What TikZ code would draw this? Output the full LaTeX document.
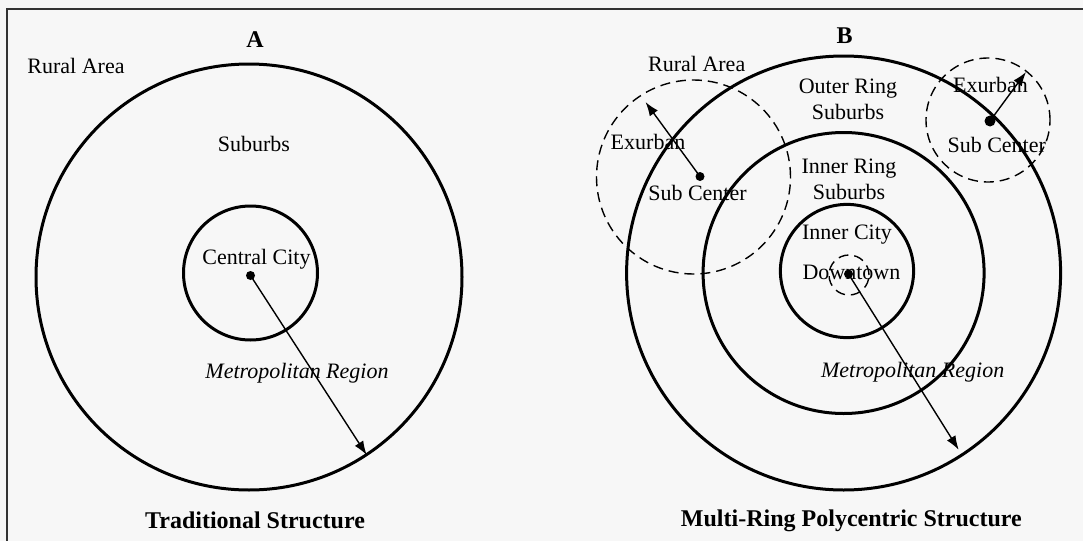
\documentclass[tikz,border=0pt]{standalone}
\usepackage{fontspec}
\setmainfont{Liberation Serif}
\usetikzlibrary{arrows.meta}

\tikzset{
  ring/.style={draw, circle, line width=1.5pt, inner sep=0pt},
  subring/.style={draw, circle, line width=0.7pt, dash pattern=on 5pt off 3pt, inner sep=0pt},
  dot/.style={circle, fill, inner sep=0pt, minimum size=4.5pt},
  ptr/.style={line width=0.7pt, -{Latex[length=7pt,width=5pt]}},
  lbl/.style={font=\fontsize{11}{13}\selectfont, inner sep=0pt, align=center},
  ttl/.style={font=\fontsize{12}{14}\selectfont\bfseries, inner sep=0pt},
  mreg/.style={font=\fontsize{11}{13}\selectfont\itshape, inner sep=0pt}
}

\begin{document}
\begin{tikzpicture}[x=0.5pt,y=-0.5pt]
\fill[white!97!black] (0,0) rectangle (1083,541);
\useasboundingbox (0,0) rectangle (1083,541);
\draw[line width=1pt, black!80] (7,541) -- (7,9) -- (1083,9);

% A
\node[ring, minimum size=213pt] (outerA) at (249,277) {};
\node[ring, minimum size=67pt] (cityA) at (250.5,273) {};
\node[dot] (ctrA) at (250.5,275.5) {};
\coordinate (endA) at (366.7,455);
\draw[ptr] (ctrA.center) -- (endA);

\node[ttl] (headA) at (255,40) {A};
\node[lbl] (ruralA) at (76,66) {Rural Area};
\node[lbl] (subA) at (254,144) {Suburbs};
\node[lbl] (centralA) at (256.5,259) {Central City};
\node[mreg] (metroA) at (297,373.6) {Metropolitan Region};
\node[ttl] (footA) at (255,520) {Traditional Structure};

% B
\node[ring, minimum size=217pt] (outerB) at (843.6,273) {};
\node[ring, minimum size=140.5pt] (midB) at (843.6,273) {};
\node[ring, minimum size=66.6pt] (cityB) at (847,271) {};
\node[subring, minimum size=20pt] (downB) at (849,275) {};
\node[subring, minimum size=97pt] (subL) at (693.5,177) {};
\node[subring, minimum size=62pt] (subR) at (988,120) {};

\node[dot] (ctrB) at (848.5,274) {};
\node[dot] (ctrL) at (700,176.5) {};
\node[dot, minimum size=5.5pt] (ctrR) at (990,121) {};
\coordinate (endB) at (958.7,449.8);
\coordinate (endL) at (645.5,102);
\coordinate (endR) at (1026,72);
\draw[ptr] (ctrB.center) -- (endB);
\draw[ptr] (ctrL.center) -- (endL);
\draw[ptr] (ctrR.center) -- (endR);

\node[ttl] (headB) at (844.5,36) {B};
\node[lbl] (ruralB) at (696.7,64) {Rural Area};
\node[lbl] (exL) at (648,142) {Exurban};
\node[lbl] (scL) at (697.5,193) {Sub Center};
\node[lbl] (exR) at (990.5,84.8) {Exurban};
\node[lbl] (scR) at (996.7,145.3) {Sub Center};
\node[lbl] (outerLbl) at (848,99.5) {Outer Ring\\Suburbs};
\node[lbl] (innerLbl) at (849,179) {Inner Ring\\Suburbs};
\node[lbl] (cityLbl) at (847,234.6) {Inner City};
\node[lbl] (downLbl) at (851.4,272.7) {Downtown};
\node[mreg] (metroB) at (912.7,372) {Metropolitan Region};
\node[ttl] (footB) at (851.4,520.8) {Multi-Ring Polycentric Structure};
\end{tikzpicture}
\end{document}
